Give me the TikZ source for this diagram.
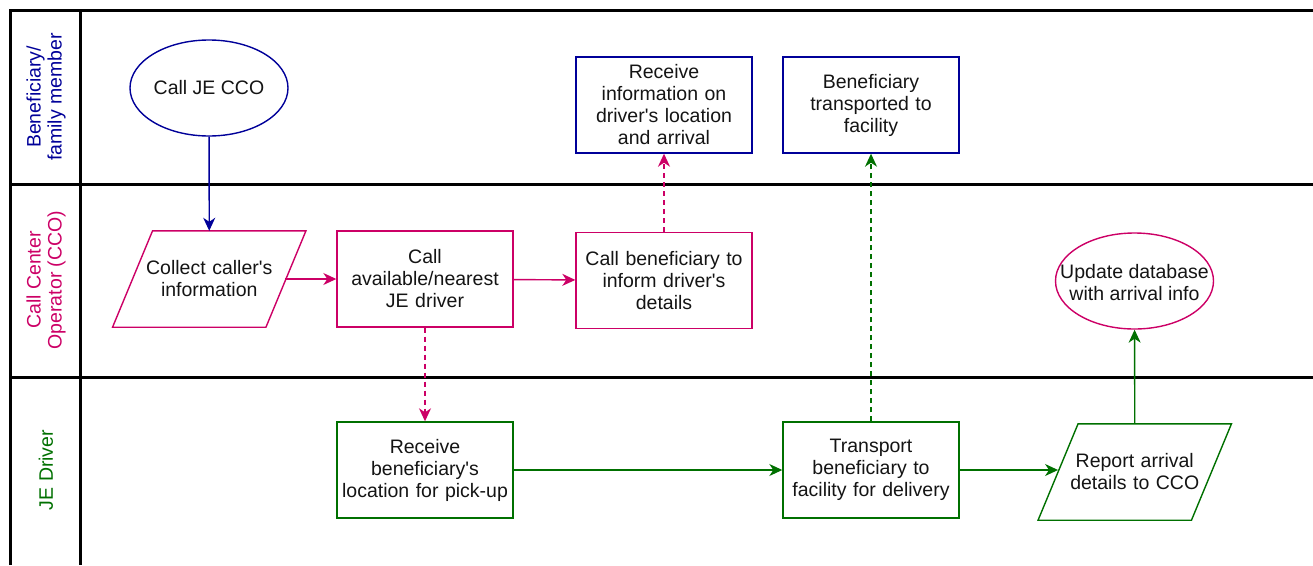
\documentclass[tikz,border=0pt]{standalone}
\usepackage{fontspec}
\setmainfont{Liberation Sans}
\usetikzlibrary{arrows.meta,shapes.geometric}
\definecolor{cblue}{RGB}{0,0,153}
\definecolor{cpink}{RGB}{204,0,102}
\definecolor{cgreen}{RGB}{0,112,0}
\definecolor{ctext}{RGB}{20,20,20}
\newcommand{\apos}{\textquotesingle}
\tikzset{
  lane/.style={line width=3pt, black},
  lanelabel/.style={rotate=90, align=center, font=\fontsize{19.5}{21}\selectfont},
  box/.style={draw, line width=1.4pt, minimum width=176pt, minimum height=96pt, inner sep=0pt, text width=170pt, align=center, text=ctext, font=\fontsize{19.5}{22}\selectfont},
  oval/.style={draw, ellipse, line width=1.4pt, minimum width=158pt, minimum height=96pt, inner sep=0pt},
  ovaltext/.style={inner sep=0pt, align=center, text=ctext, font=\fontsize{19.5}{22}\selectfont},
  paratext/.style={minimum width=153pt, minimum height=96pt, inner sep=0pt, text width=150pt, align=center, text=ctext, font=\fontsize{19.5}{22}\selectfont},
  flow/.style={line width=1.4pt, -{Stealth[length=13pt, width=12pt, inset=4pt]}},
  dflow/.style={flow, dash pattern=on 5pt off 4pt},
}
\begin{document}
\begin{tikzpicture}[x=1pt, y=-1pt]
\useasboundingbox (0,0) rectangle (1313,565);
% swimlane frame
\draw[lane] (10,565) -- (10,10) -- (1313,10);
\draw[lane] (80,10) -- (80,565);
\draw[lane] (10,184.5) -- (1313,184.5);
\draw[lane] (10,377) -- (1313,377);
\node[lanelabel, text=cblue] (l1) at (46,97) {Beneficiary/\\family member};
\node[lanelabel, text=cpink] (l2) at (46,280) {Call Center\\Operator (CCO)};
\node[lanelabel, text=cgreen] (l3) at (46,470) {JE Driver};
% nodes
\node[oval, draw=cblue] (calljecco) at (209,88) {};
\node[ovaltext] (calljeccot) at (calljecco) {Call JE CCO};
\node[box, draw=cblue] (recinfo) at (664,105) {Receive\\information on\\driver\apos s location\\and arrival};
\node[box, draw=cblue] (bentrans) at (871,105) {Beneficiary\\transported to\\facility};
\node[paratext] (collect) at (209.25,279) {Collect caller\apos s\\information};
\draw[cpink, line width=1.4pt] ([xshift=20pt]collect.north west) -- ([xshift=20pt]collect.north east) -- ([xshift=-20pt]collect.south east) -- ([xshift=-20pt]collect.south west) -- cycle;
\node[box, draw=cpink] (calldriver) at (425,279) {Call\\available/nearest\\JE driver};
\node[box, draw=cpink] (callben) at (664,280.5) {Call beneficiary to\\inform driver\apos s\\details};
\node[oval, draw=cpink] (update) at (1134.5,281) {};
\node[ovaltext] (updatet) at ([yshift=-2pt]update) {Update database\\with arrival info};
\node[box, draw=cgreen] (recloc) at (425,470) {Receive\\beneficiary\apos s\\location for pick-up};
\node[box, draw=cgreen] (transport) at (871,470) {Transport\\beneficiary to\\facility for delivery};
\node[paratext] (report) at (1134.75,472) {Report arrival\\details to CCO};
\draw[cgreen, line width=1.4pt] ([xshift=20pt]report.north west) -- ([xshift=20pt]report.north east) -- ([xshift=-20pt]report.south east) -- ([xshift=-20pt]report.south west) -- cycle;
% connectors
\draw[flow, cblue] (calljecco) -- (collect.north);
\draw[flow, cpink] ([xshift=-1pt]collect.east) -- (calldriver.west);
\draw[flow, cpink] (calldriver) -- (callben);
\draw[dflow, cpink] (callben) -- (recinfo);
\draw[dflow, cpink] (calldriver) -- (recloc);
\draw[flow, cgreen] (recloc) -- (transport);
\draw[flow, cgreen] (transport.east) -- (transport.east -| report.west);
\draw[dflow, cgreen] (transport) -- (bentrans);
\draw[flow, cgreen] (report.north) -- (update);
\end{tikzpicture}
\end{document}
